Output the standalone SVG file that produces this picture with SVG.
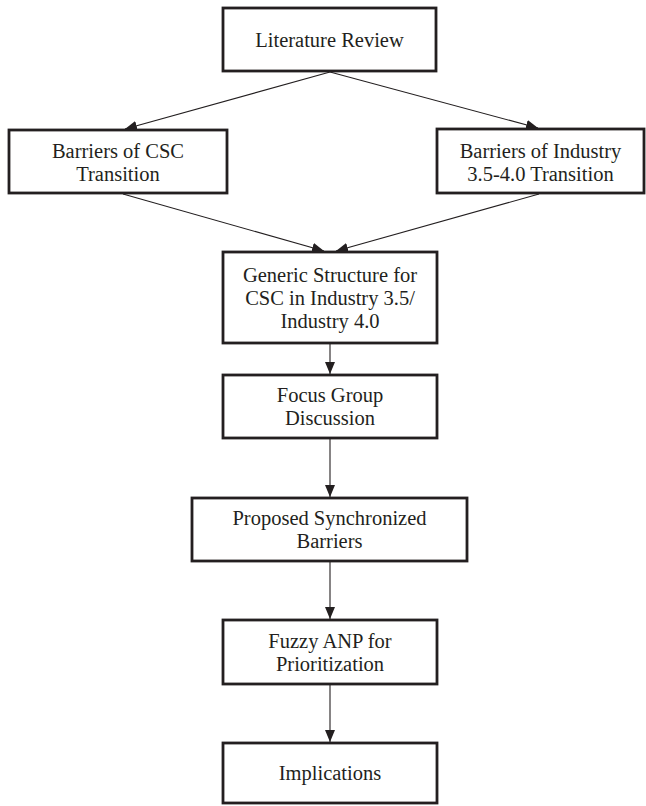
<svg xmlns="http://www.w3.org/2000/svg" width="646" height="806" viewBox="0 0 646 806">
<defs>
<style>
.box{fill:#fff;stroke:#231f20;stroke-width:2.8}
.t{font-family:"Liberation Serif","Times New Roman",serif;font-size:20.5px;fill:#231f20;text-anchor:middle}
.c{stroke:#231f20;stroke-width:1.1;fill:none;marker-end:url(#ah)}
</style>
<marker id="ah" markerUnits="userSpaceOnUse" markerWidth="13" markerHeight="11" refX="12" refY="5" orient="auto">
<path d="M0,0 L12,5 L0,10 Z" fill="#231f20"/>
</marker>
</defs>
<rect width="646" height="806" fill="#fff"/>
<g id="connectors">
<line class="c" x1="330" y1="72" x2="125" y2="129"/>
<line class="c" x1="330" y1="72" x2="538" y2="128"/>
<line class="c" x1="123" y1="194" x2="324" y2="251"/>
<line class="c" x1="539" y1="194" x2="336" y2="251"/>
<line class="c" x1="330" y1="344" x2="330" y2="374"/>
<line class="c" x1="330" y1="439" x2="330" y2="497"/>
<line class="c" x1="330" y1="562" x2="330" y2="619"/>
<line class="c" x1="330" y1="685" x2="330" y2="742"/>
</g>
<g id="literature-review">
<rect class="box" x="223" y="8" width="213" height="63"/>
<text class="t" x="329.5" y="47">Literature Review</text>
</g>
<g id="barriers-csc">
<rect class="box" x="9" y="130" width="218" height="63"/>
<text class="t" x="118" y="158">Barriers of CSC</text>
<text class="t" x="118" y="181">Transition</text>
</g>
<g id="barriers-industry">
<rect class="box" x="437" y="129" width="207" height="64"/>
<text class="t" x="540.5" y="158">Barriers of Industry</text>
<text class="t" x="540.5" y="181">3.5-4.0 Transition</text>
</g>
<g id="generic-structure">
<rect class="box" x="223" y="252" width="214" height="91"/>
<text class="t" x="330" y="282">Generic Structure for</text>
<text class="t" x="330" y="305">CSC in Industry 3.5/</text>
<text class="t" x="330" y="328">Industry 4.0</text>
</g>
<g id="focus-group">
<rect class="box" x="223" y="375" width="214" height="63"/>
<text class="t" x="330" y="402">Focus Group</text>
<text class="t" x="330" y="425">Discussion</text>
</g>
<g id="proposed-barriers">
<rect class="box" x="192" y="498" width="275" height="63"/>
<text class="t" x="329.5" y="525">Proposed Synchronized</text>
<text class="t" x="329.5" y="548">Barriers</text>
</g>
<g id="fuzzy-anp">
<rect class="box" x="223" y="620" width="214" height="64"/>
<text class="t" x="330" y="648">Fuzzy ANP for</text>
<text class="t" x="330" y="671">Prioritization</text>
</g>
<g id="implications">
<rect class="box" x="223" y="743" width="214" height="60"/>
<text class="t" x="330" y="780">Implications</text>
</g>
</svg>
